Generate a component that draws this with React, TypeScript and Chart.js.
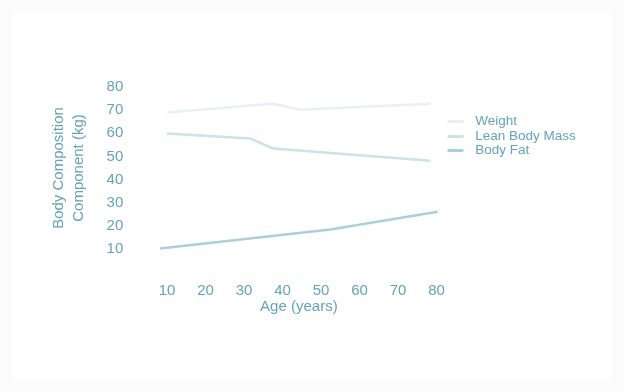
import React, { useEffect, useRef } from 'react';
import { Chart, registerables } from 'chart.js';

Chart.register(...registerables);

const seriesNames = ['Weight', 'Lean Body Mass', 'Body Fat'];
const weightAges = [10, 37.6, 44.6, 78.4];
const weightValues = [69, 72.8, 70.2, 72.8];
const leanAges = [10, 31.6, 37.6, 78.4];
const leanValues = [59.9, 57.7, 53.4, 48.1];
const fatAges = [8.2, 52.4, 80.3];
const fatValues = [10.2, 18.4, 26.1];
const xTickValues = [10, 20, 30, 40, 50, 60, 70, 80];
const yTickValues = [10, 20, 30, 40, 50, 60, 70, 80];
const xTitle = 'Age (years)';
const yTitle = ['Body Composition', 'Component (kg)'];

const lineColors = ['#e6f1f4', '#cae2e8', '#aad0da'];
const TEXT = '#62a5b7';
const FONT = "'Liberation Sans', Arial, sans-serif";

function legendSwatch(color: string): HTMLCanvasElement {
  const c = document.createElement('canvas');
  c.width = 29;
  c.height = 3;
  const g = c.getContext('2d')!;
  g.fillStyle = color;
  g.fillRect(8, 0, 16, 3);
  return c;
}

function pts(xs: number[], ys: number[]) {
  return xs.map((x, i) => ({ x, y: ys[i] }));
}

export default function App() {
  const ref = useRef<HTMLCanvasElement>(null);

  useEffect(() => {
    if (!ref.current) return;
    const series = [pts(weightAges, weightValues), pts(leanAges, leanValues), pts(fatAges, fatValues)];
    const chart = new Chart(ref.current, {
      type: 'line',
      data: {
        datasets: series.map((d, i) => ({
          label: seriesNames[i],
          data: d,
          borderColor: lineColors[i],
          backgroundColor: lineColors[i],
          borderWidth: 2.5,
          pointRadius: 0,
          pointHoverRadius: 0,
          pointStyle: legendSwatch(lineColors[i]),
          tension: 0,
          clip: false,
        })),
      },
      options: {
        responsive: false,
        animation: false,
        events: [],
        layout: { padding: { left: 37, right: 26.25, top: 75, bottom: 65.5 } },
        plugins: {
          tooltip: { enabled: false },
          legend: {
            position: 'right',
            align: 'start',
            maxWidth: 300,
            title: { display: true, text: '', font: { size: 1, lineHeight: 1 }, padding: { top: 25.75, bottom: 0 } },
            labels: {
              usePointStyle: true,
              pointStyleWidth: 29,
              boxHeight: 3,
              padding: 1,
              color: TEXT,
              font: { family: FONT, size: 13.5, lineHeight: 1 },
            },
          },
        },
        scales: {
          x: {
            type: 'linear',
            min: 8,
            max: 80.5,
            afterBuildTicks: (axis: any) => {
              axis.ticks = xTickValues.map((v) => ({ value: v }));
            },
            grid: { display: false, drawTicks: false },
            border: { display: false },
            ticks: { color: TEXT, padding: 34.8, font: { family: FONT, size: 15, lineHeight: 1 } },
            title: {
              display: true,
              text: xTitle,
              color: TEXT,
              font: { family: FONT, size: 15, lineHeight: 1 },
              padding: { top: -34.1, bottom: 0 },
            },
          },
          y: {
            type: 'linear',
            min: 10,
            max: 80,
            afterBuildTicks: (axis: any) => {
              axis.ticks = yTickValues.map((v) => ({ value: v }));
            },
            grid: { display: false, drawTicks: false },
            border: { display: false },
            ticks: { color: TEXT, padding: 36, font: { family: FONT, size: 15, lineHeight: 1.2 } },
            title: {
              display: true,
              text: yTitle,
              color: TEXT,
              font: { family: FONT, size: 15, lineHeight: 1.3333 },
              padding: { top: 0, bottom: -18.4 },
            },
          },
        },
      },
    } as any);
    return () => chart.destroy();
  }, []);

  return (
    <div style={{ position: 'absolute', left: 0, top: 0, width: 624, height: 392, background: '#fbfbfb' }}>
      <div style={{ position: 'absolute', left: 12, top: 12, width: 600, height: 368, background: '#ffffff' }}>
        <canvas ref={ref} width={600} height={368} style={{ display: 'block', width: 600, height: 368 }} />
      </div>
    </div>
  );
}
